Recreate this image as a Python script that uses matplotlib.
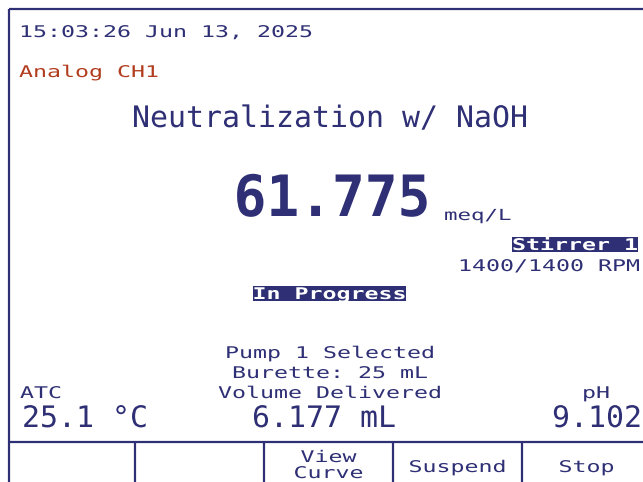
#!/usr/bin/env python3
"""
Redraw the titrator status screen (neutralization run) as out.png
"""

import matplotlib
matplotlib.use("Agg")
import matplotlib.pyplot as plt
from matplotlib import patheffects
from matplotlib.transforms import Affine2D

# Screen contents
timestamp = "15:03:26 Jun 13, 2025"
channel = "Analog CH1"
method_name = "Neutralization w/ NaOH"
result_value = "61.775"
result_unit = "meq/L"
stirrer_name = "Stirrer 1"
stirrer_speed = "1400/1400 RPM"
status = "In Progress"
pump_info = ["Pump 1 Selected", "Burette: 25 mL", "Volume Delivered"]
volume_delivered = "6.177 mL"
temp_label, temp_value = "ATC", "25.1 °C"
ph_label, ph_value = "pH", "9.102"
softkeys = [[], [], ["View", "Curve"], ["Suspend"], ["Stop"]]

NAVY = "#2e2f74"
RED = "#b23c1e"
DPI = 100
W, H = 643, 482
MONO = "DejaVu Sans Mono"
ADV = 1233 / 2048  # advance width of one mono glyph, in em


class Stretch(patheffects.AbstractPathEffect):
    """Stretch glyph outlines horizontally (the LCD font is wide)."""

    def __init__(self, sx=1.0):
        super().__init__()
        self.sx = sx

    def draw_path(self, renderer, gc, tpath, affine, rgbFace=None):
        renderer.draw_path(gc, tpath, Affine2D().scale(self.sx, 1.0) + affine, rgbFace)


fig = plt.figure(figsize=(W / DPI, H / DPI), dpi=DPI)
ax = fig.add_axes([0, 0, 1, 1])
ax.set_xlim(0, W)
ax.set_ylim(H, 0)
ax.axis("off")


def put(x, y, s, pitch, size, ha="left", color=NAVY, weight="normal"):
    # size in pt, pitch = wanted px per character
    em = size * DPI / 72
    sx = pitch / (ADV * em)
    adv = len(s) * pitch
    left = x - {"left": 0, "center": adv / 2, "right": adv}[ha]
    ax.text(left, y, s, fontsize=size, family=MONO, color=color, weight=weight,
            ha="left", va="baseline", path_effects=[Stretch(sx)])


SMALL = dict(pitch=14, size=11.6)
LARGE = dict(pitch=18, size=21.3)

# frame lines
lw = 1.6
ax.plot([9, W], [9, 9], color=NAVY, lw=lw, solid_capstyle="butt")
ax.plot([9, 9], [9, H], color=NAVY, lw=lw, solid_capstyle="butt")
ax.plot([9, W], [442, 442], color=NAVY, lw=lw, solid_capstyle="butt")
key_edges = [9, 135, 264, 393, 522, 651]
for xe in key_edges[1:-1]:
    ax.plot([xe, xe], [442, H], color=NAVY, lw=lw, solid_capstyle="butt")

# header
put(19, 37, timestamp, **SMALL)
put(19, 77, channel, color=RED, **SMALL)
put(330, 127, method_name, ha="center", **LARGE)

# main result
put(332, 216, result_value, pitch=32.8, size=41, ha="center", weight="bold")
put(444, 220, result_unit, pitch=13.5, size=11.0)

# stirrer
ax.fill_between([512, 638], 237, 252, color=NAVY, lw=0)
put(575, 250, stirrer_name, ha="center", color="white", weight="bold", **SMALL)
put(640, 271, stirrer_speed, ha="right", **SMALL)

# status
ax.fill_between([253, 406], 286, 301, color=NAVY, lw=0)
put(329.5, 299, status, ha="center", color="white", weight="bold", **SMALL)

# pump / burette block
for i, line in enumerate(pump_info):
    put(330, 358 + 20 * i, line, ha="center", **SMALL)
put(252, 427, volume_delivered, **LARGE)

# temperature and pH
put(20, 398, temp_label, **SMALL)
put(22, 427, temp_value, **LARGE)
put(596, 398, ph_label, ha="center", **SMALL)
put(597, 427, ph_value, ha="center", **LARGE)

# soft keys
for i, lines in enumerate(softkeys):
    cx = (key_edges[i] + key_edges[i + 1]) / 2
    if len(lines) == 1:
        put(cx, 472, lines[0], ha="center", **SMALL)
    elif len(lines) == 2:
        put(cx, 462, lines[0], ha="center", **SMALL)
        put(cx, 478, lines[1], ha="center", **SMALL)

fig.savefig("out.png", dpi=DPI)
plt.close(fig)
